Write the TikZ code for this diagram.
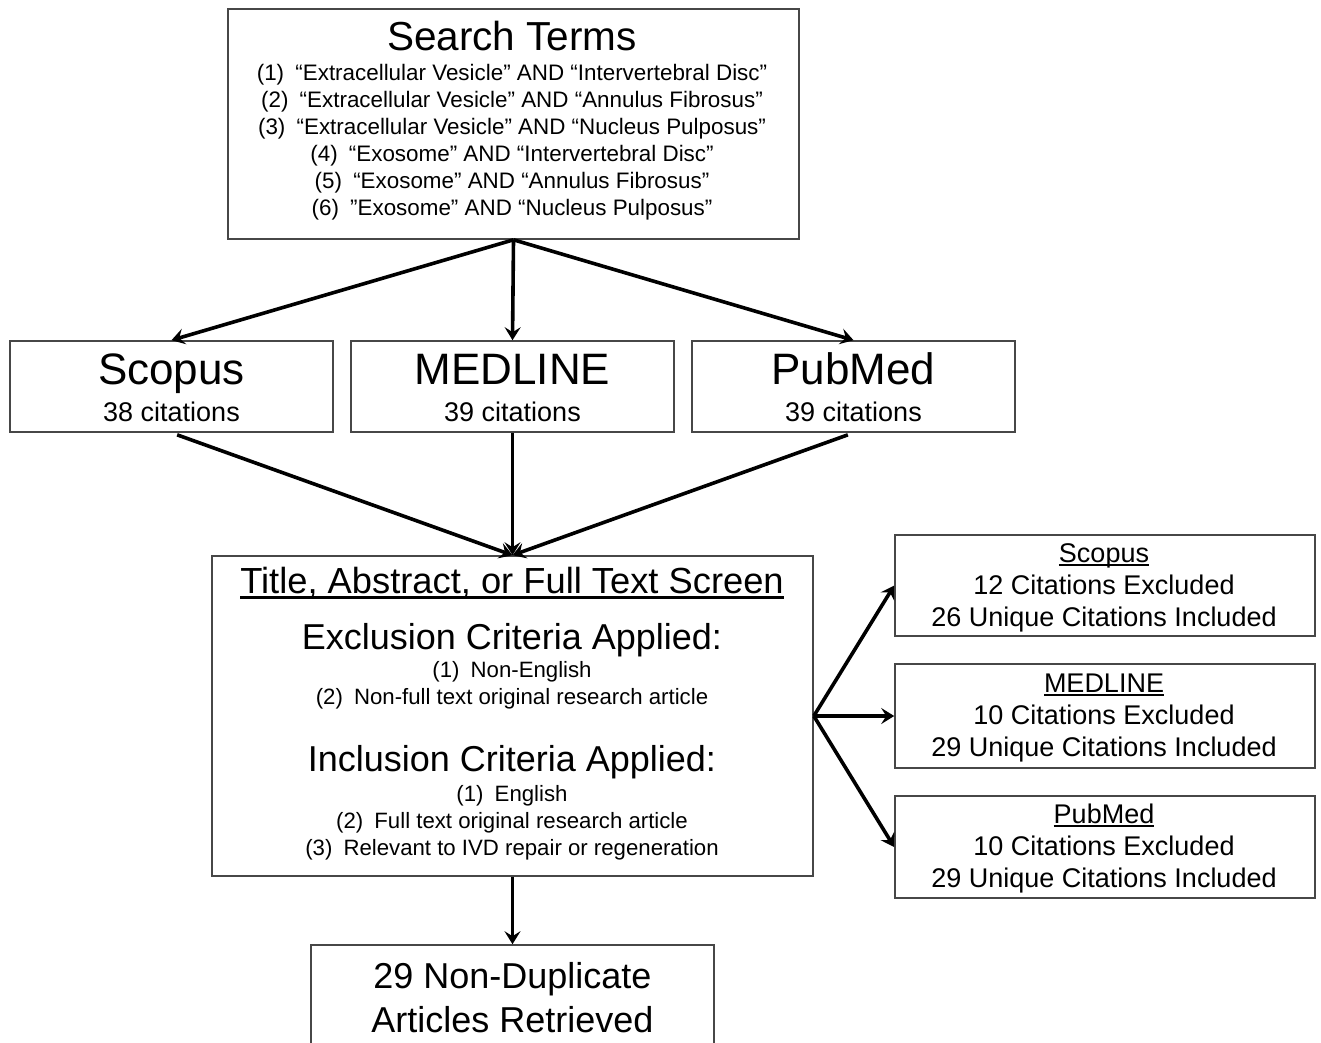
\documentclass[tikz,border=0pt]{standalone}
\usepackage{fontspec}
\setmainfont{Liberation Sans}
\usetikzlibrary{arrows.meta}
\newcommand{\myul}[3]{\setbox0\hbox{#3}\leavevmode\rlap{\rule[-#1]{\wd0}{#2}}\box0}
\newcommand{\fs}[1]{\fontsize{#1}{#1}\selectfont}
\tikzset{
  box/.style={draw=black!72, line width=1.6pt, fill=white, inner sep=0pt},
  txt/.style={anchor=base, inner sep=0pt},
  arr/.style={line width=3.6pt, -{Stealth[length=13pt,width=16pt,inset=5pt]}},
}
\begin{document}
\begin{tikzpicture}[x=1pt,y=-1pt]
\useasboundingbox (0,0) rectangle (1321,1042);
\clip (0,0) rectangle (1321,1042);
\fill[white] (0,0) rectangle (1321,1042);
% boxes
\node[box, minimum width=571, minimum height=230] (terms) at (513.5,124) {};
\node[box, minimum width=323, minimum height=91] (scopus) at (171.5,386.5) {};
\node[box, minimum width=323, minimum height=91] (medline) at (512.5,386.5) {};
\node[box, minimum width=323, minimum height=91] (pubmed) at (853.5,386.5) {};
\node[box, minimum width=601, minimum height=320] (screen) at (512.5,716) {};
\node[box, minimum width=420, minimum height=101] (rscopus) at (1105,585.5) {};
\node[box, minimum width=420, minimum height=104] (rmedline) at (1105,716) {};
\node[box, minimum width=420, minimum height=102] (rpubmed) at (1105,847) {};
\node[box, minimum width=403, minimum height=130] (final) at (512.5,1010) {};
% search terms text
\node[txt] (tt) at (512,50) {\fs{40.5}Search Terms};
\node[txt] (s1) at (512,80) {\fs{22.4}(1)\hspace{0.5em}“Extracellular Vesicle” AND “Intervertebral Disc”};
\node[txt] (s2) at (512,107) {\fs{22.4}(2)\hspace{0.5em}“Extracellular Vesicle” AND “Annulus Fibrosus”};
\node[txt] (s3) at (512,134) {\fs{22.4}(3)\hspace{0.5em}“Extracellular Vesicle” AND “Nucleus Pulposus”};
\node[txt] (s4) at (512,161) {\fs{22.4}(4)\hspace{0.5em}“Exosome” AND “Intervertebral Disc”};
\node[txt] (s5) at (512,188) {\fs{22.4}(5)\hspace{0.5em}“Exosome” AND “Annulus Fibrosus”};
\node[txt] (s6) at (512,215) {\fs{22.4}(6)\hspace{0.5em}”Exosome” AND “Nucleus Pulposus”};
% databases
\node[txt] (sc1) at (171.5,384) {\fs{44}Scopus};
\node[txt] (sc2) at (171.5,421) {\fs{27}38 citations};
\node[txt] (me1) at (512.5,384) {\fs{44}MEDLINE};
\node[txt] (me2) at (512.5,421) {\fs{27}39 citations};
\node[txt] (pm1) at (853.5,384) {\fs{44}PubMed};
\node[txt] (pm2) at (853.5,421) {\fs{27}39 citations};
% screen text
\node[txt] (sr0) at (512,593) {\fs{36.3}\myul{6pt}{2.6pt}{Title, Abstract, or Full Text Screen}};
\node[txt] (sr1) at (512,649) {\fs{36}Exclusion Criteria Applied:};
\node[txt] (sr2) at (512,677) {\fs{22.2}(1)\hspace{0.5em}Non-English};
\node[txt] (sr3) at (512,704) {\fs{22.2}(2)\hspace{0.5em}Non-full text original research article};
\node[txt] (sr4) at (512,771) {\fs{36}Inclusion Criteria Applied:};
\node[txt] (sr5) at (512,801) {\fs{22.2}(1)\hspace{0.5em}English};
\node[txt] (sr6) at (512,828) {\fs{22.2}(2)\hspace{0.5em}Full text original research article};
\node[txt] (sr7) at (512,855) {\fs{22.2}(3)\hspace{0.5em}Relevant to IVD repair or regeneration};
% right boxes text
\node[txt] (ra1) at (1104,562) {\fs{27}\myul{4pt}{1.7pt}{Scopus}};
\node[txt] (ra2) at (1104,594) {\fs{27}12 Citations Excluded};
\node[txt] (ra3) at (1104,626) {\fs{27}26 Unique Citations Included};
\node[txt] (rb1) at (1104,692) {\fs{27}\myul{4pt}{1.7pt}{MEDLINE}};
\node[txt] (rb2) at (1104,724) {\fs{27}10 Citations Excluded};
\node[txt] (rb3) at (1104,756) {\fs{27}29 Unique Citations Included};
\node[txt] (rc1) at (1104,823) {\fs{27}\myul{4pt}{1.7pt}{PubMed}};
\node[txt] (rc2) at (1104,855) {\fs{27}10 Citations Excluded};
\node[txt] (rc3) at (1104,887) {\fs{27}29 Unique Citations Included};
% final
\node[txt] (f1) at (512.5,988) {\fs{36}29 Non-Duplicate};
\node[txt] (f2) at (512.5,1032) {\fs{36}Articles Retrieved};
% arrows
\draw[arr] (terms.south) -- (scopus.north);
\draw[arr] (terms.south) -- (medline.north);
\draw[arr] (terms.south) -- (pubmed.north);
\draw[arr, shorten <=6pt] (scopus.south) -- (screen.north);
\draw[arr] (medline.south) -- (screen.north);
\draw[arr, shorten <=6pt] (pubmed.south) -- (screen.north);
\draw[arr] (screen.east) -- (rscopus.west);
\draw[arr] (screen.east) -- (rmedline.west);
\draw[arr] (screen.east) -- (rpubmed.west);
\draw[arr] (screen.south) -- (screen.south |- final.north);
\end{tikzpicture}
\end{document}
